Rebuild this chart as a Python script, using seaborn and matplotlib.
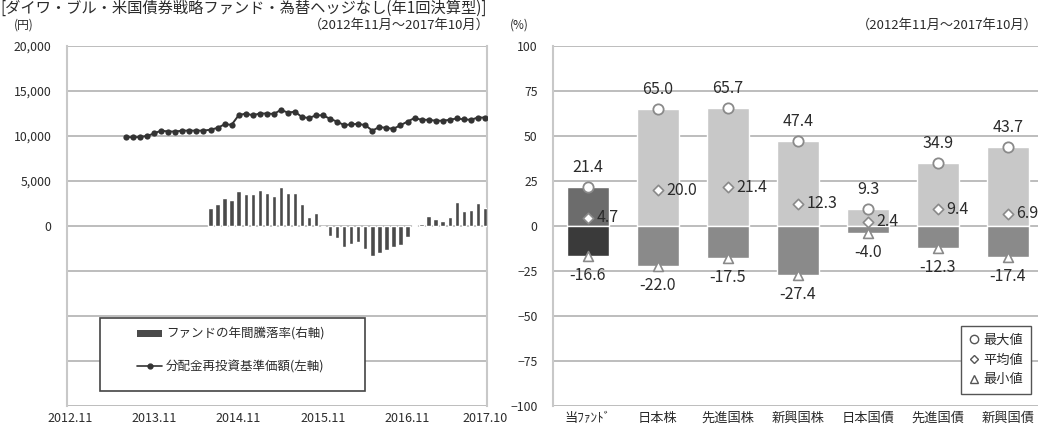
import numpy as np
import pandas as pd
import seaborn as sns
import matplotlib
matplotlib.use("Agg")
import matplotlib.pyplot as plt
from matplotlib.patches import Rectangle, Patch
from matplotlib.lines import Line2D

sns.set_theme(style="white")
plt.rcParams['font.family'] = ['Noto Sans CJK JP', 'DejaVu Sans']

# ---- data -------------------------------------------------------------
title_text = "[ダイワ・ブル・米国債券戦略ファンド・為替ヘッジなし(年1回決算型)]"
period_text = "（2012年11月～2017年10月）"

months = [p.strftime("%Y.%m") for p in pd.period_range("2012-11", "2017-10", freq="M")]
date_ticks = ["2012.11", "2013.11", "2014.11", "2015.11", "2016.11", "2017.10"]

# reinvested NAV (yen), monthly from 2013.07
nav_start = "2013.07"
nav_values = [9900, 9850, 9900, 10000, 10300, 10600, 10500, 10500, 10600, 10600,
              10600, 10600, 10700, 10900, 11300, 11250, 12300, 12500, 12300, 12500,
              12500, 12450, 12900, 12600, 12700, 12100, 12000, 12300, 12300, 11900,
              11600, 11200, 11300, 11350, 11200, 10600, 11000, 10900, 10800, 11200,
              11600, 12000, 11800, 11800, 11700, 11700, 11800, 11950, 11850, 11800,
              12050, 12050]

# fund 1-year return (%), monthly from 2014.07
ret_start = "2014.07"
ret_values = [9.8, 12.2, 15.4, 14.4, 19.4, 17.8, 17.8, 20.0, 18.1, 16.9,
              21.4, 18.1, 18.1, 12.0, 5.2, 7.4, -0.3, -5.6, -6.9, -11.5,
              -10.2, -8.7, -12.8, -16.6, -14.8, -13.3, -11.5, -10.6, -6.3, 0.3,
              0.9, 5.6, 3.7, 3.0, 4.8, 13.5, 8.5, 8.9, 12.6, 9.8]

asset_classes = ["当ﾌｧﾝﾄﾞ", "日本株", "先進国株", "新興国株", "日本国債", "先進国債", "新興国債"]
max_values = [21.4, 65.0, 65.7, 47.4, 9.3, 34.9, 43.7]
avg_values = [4.7, 20.0, 21.4, 12.3, 2.4, 9.4, 6.9]
min_values = [-16.6, -22.0, -17.5, -27.4, -4.0, -12.3, -17.4]

# ---- styling ----------------------------------------------------------
W, H = 1040, 428
grid_c = "#bdbdbd"
text_c = "#2b2b2b"

fig = plt.figure(figsize=(W / 100, H / 100), dpi=100)
fig.patch.set_facecolor("white")


def frac_box(x0, y0, x1, y1):
    return [x0 / W, 1 - y1 / H, (x1 - x0) / W, (y1 - y0) / H]


# ---- left panel: NAV line + annual return bars -----------------------
ax = fig.add_axes(frac_box(67, 46, 487, 406))
ax2 = ax.twinx()

nav_df = pd.DataFrame({"month": months[months.index(nav_start):], "nav": nav_values})
nav_df["pos"] = nav_df["month"].map(months.index)
ret_df = pd.DataFrame({"month": months, "ret": np.nan})
ret_df.loc[ret_df["month"].isin(months[months.index(ret_start):]), "ret"] = ret_values

sns.barplot(data=ret_df, x="month", y="ret", order=months, color="#4a4a4a",
            width=0.62, errorbar=None, ax=ax2, saturation=1)
sns.lineplot(data=nav_df, x="pos", y="nav", ax=ax, color="#333333", lw=1.4,
             marker="o", markersize=4.5, markeredgewidth=0, zorder=3)

ax.set_ylim(-20000, 20000)
ax2.set_ylim(-100, 100)
ax.set_xlim(-0.4, 59.3)
yt = np.arange(-20000, 20001, 5000)
ax.set_yticks(yt)
ax.set_yticklabels([f"{v:,}" if v >= 0 else "" for v in yt])
ax.set_xticks([months.index(m) for m in date_ticks])
ax.set_xticklabels(date_ticks)
ax.set_xlabel("")
ax.set_ylabel("")
ax2.set_ylabel("")
ax2.set_yticks([])
ax.grid(axis="y", color=grid_c, lw=1.4)
ax.grid(axis="x", visible=False)
ax.set_axisbelow(True)
ax.tick_params(axis="y", length=0, pad=11, labelsize=8.8, labelcolor=text_c)
ax.tick_params(axis="x", length=0, pad=4, labelsize=9, labelcolor=text_c)
for s in ax.spines.values():
    s.set_color("#c8c8c8")
    s.set_linewidth(1.5)
ax.spines["top"].set_visible(False)
ax.spines["bottom"].set_visible(False)
for s in ax2.spines.values():
    s.set_visible(False)

# legend box for left panel
ax.add_patch(Rectangle((0.079, 0.042), 0.631, 0.203, transform=ax.transAxes,
                       facecolor="white", edgecolor="#444444", lw=1.2, zorder=5))
leg_handles = [
    Patch(facecolor="#4a4a4a", edgecolor="none"),
    Line2D([], [], color="#333333", lw=1.2, marker="o", markersize=3.5),
]
leg1 = ax.legend(leg_handles, ["ファンドの年間騰落率(右軸)", "分配金再投資基準価額(左軸)"],
                 loc="lower left", bbox_to_anchor=(0.14, 0.06), frameon=False,
                 fontsize=9, labelspacing=1.55, handlelength=2.0, handleheight=0.45,
                 handletextpad=0.3)
leg1.set_zorder(6)
for t in leg1.get_texts():
    t.set_color(text_c)

# ---- right panel: return range by asset class ------------------------
ax3 = fig.add_axes(frac_box(553, 46, 1038, 406))
cls_df = pd.DataFrame({"asset": asset_classes, "max": max_values,
                       "avg": avg_values, "min": min_values,
                       "pos": np.arange(len(asset_classes))})
pos_colors = ["#6c6c6c"] + ["#c8c8c8"] * 6
neg_colors = ["#3a3a3a"] + ["#8a8a8a"] * 6

sns.barplot(data=cls_df, x="asset", y="max", hue="asset", palette=pos_colors,
            order=asset_classes, hue_order=asset_classes, legend=False,
            width=0.6, errorbar=None, ax=ax3, saturation=1)
sns.barplot(data=cls_df, x="asset", y="min", hue="asset", palette=neg_colors,
            order=asset_classes, hue_order=asset_classes, legend=False,
            width=0.6, errorbar=None, ax=ax3, saturation=1)

mk_edge = "#8a8a8a"
sns.scatterplot(data=cls_df, x="pos", y="max", marker="o", s=55, color="white",
                edgecolor=mk_edge, linewidth=1.3, ax=ax3, zorder=4)
sns.scatterplot(data=cls_df, x="pos", y="avg", marker="D", s=28, color="white",
                edgecolor=mk_edge, linewidth=1.2, ax=ax3, zorder=4)
sns.scatterplot(data=cls_df, x="pos", y="min", marker="^", s=50, color="white",
                edgecolor=mk_edge, linewidth=1.2, ax=ax3, zorder=4)

for i, row in cls_df.iterrows():
    ax3.annotate(f"{row['max']:.1f}", (i, row["max"]), xytext=(0, 8),
                 textcoords="offset points", ha="center", va="bottom",
                 fontsize=11.5, color=text_c)
    ax3.annotate(f"{row['avg']:.1f}", (i, row["avg"]), xytext=(6, 0),
                 textcoords="offset points", ha="left", va="center",
                 fontsize=11.5, color=text_c)
    ax3.annotate(f"{row['min']:.1f}", (i, row["min"]), xytext=(0, -8),
                 textcoords="offset points", ha="center", va="top",
                 fontsize=11.5, color=text_c)

ax3.set_xlim(-0.5, 6.43)
ax3.set_ylim(-100, 100)
ax3.set_yticks(np.arange(-100, 101, 25))
ax3.set_xticks(range(len(asset_classes)))
ax3.set_xticklabels(asset_classes)
ax3.set_xlabel("")
ax3.set_ylabel("")
ax3.grid(axis="y", color=grid_c, lw=1.4)
ax3.grid(axis="x", visible=False)
ax3.set_axisbelow(True)
ax3.tick_params(axis="y", length=0, pad=11, labelsize=8.8, labelcolor=text_c)
ax3.tick_params(axis="x", length=0, pad=4, labelsize=9.5, labelcolor=text_c)
for s in ax3.spines.values():
    s.set_visible(False)
ax3.spines["left"].set_visible(True)
ax3.spines["left"].set_color("#c8c8c8")
ax3.spines["left"].set_linewidth(1.5)

stat_handles = [
    Line2D([], [], ls="", marker="o", mfc="white", mec="#555555", ms=6, mew=1),
    Line2D([], [], ls="", marker="D", mfc="white", mec="#555555", ms=4.5, mew=1),
    Line2D([], [], ls="", marker="^", mfc="white", mec="#555555", ms=6, mew=1),
]
leg2 = ax3.legend(stat_handles, ["最大値", "平均値", "最小値"], loc="lower right",
                  bbox_to_anchor=(0.985, 0.033), borderaxespad=0, fontsize=9.5,
                  frameon=True, fancybox=False, edgecolor="#555555", framealpha=1,
                  handlelength=0.8, handletextpad=0.3, labelspacing=0.5,
                  borderpad=0.6)
leg2.get_frame().set_linewidth(1.0)
for t in leg2.get_texts():
    t.set_color(text_c)

# ---- header texts -----------------------------------------------------
fig.text(0.0, 1 - 8 / H, title_text, ha="left", va="center", fontsize=11, color=text_c)
fig.text(14 / W, 1 - 25 / H, "(円)", ha="left", va="center", fontsize=8.5, color=text_c)
fig.text(490 / W, 1 - 25 / H, period_text, ha="right", va="center", fontsize=9.5, color=text_c)
fig.text(510 / W, 1 - 25 / H, "(%)", ha="left", va="center", fontsize=8.5, color=text_c)
fig.text(1038 / W, 1 - 25 / H, period_text, ha="right", va="center", fontsize=9.5, color=text_c)

fig.savefig("out.png", dpi=100, facecolor="white")
